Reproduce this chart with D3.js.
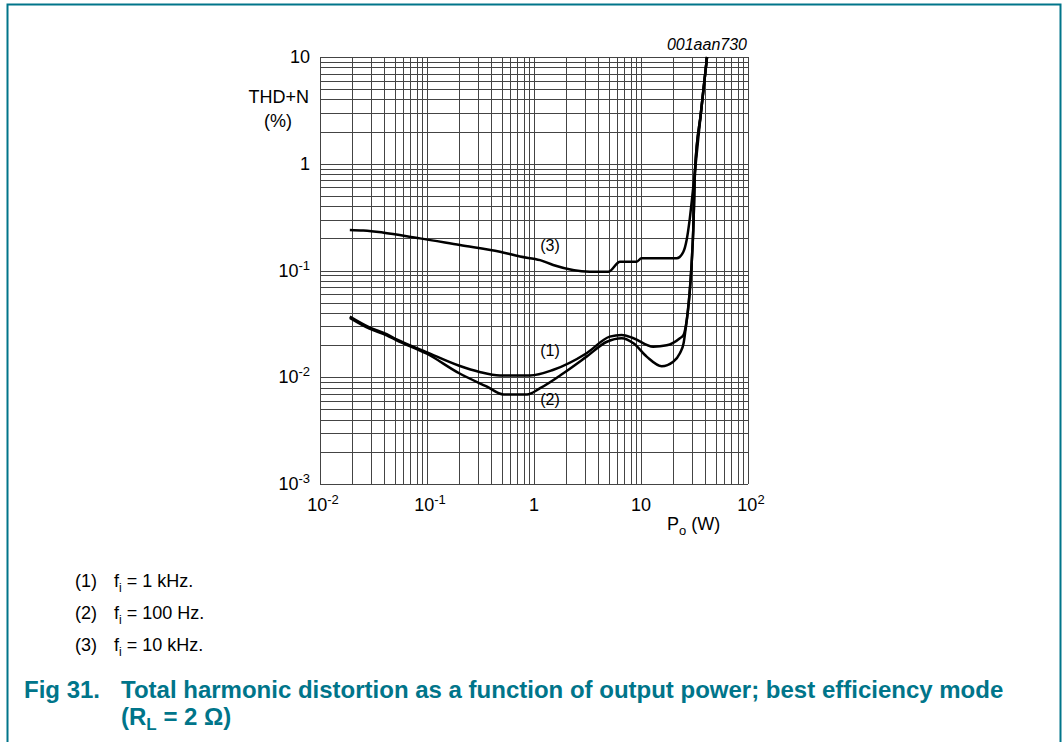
<!DOCTYPE html>
<html>
<head>
<meta charset="utf-8">
<script src="https://cdn.jsdelivr.net/npm/d3@7"></script>
<style>
  body { margin: 0; background: #fff; }
  text { font-family: "Liberation Sans", Arial, sans-serif; }
</style>
</head>
<body>
<div id="chart"></div>
<script>
// page + plot area
var svgWidth = 1063;
var svgHeight = 742;
var plot = {left: 320, top: 57, right: 748, bottom: 484};
var teal = "#00758a";

// curve (1) fi = 1 kHz
var p1 = [0.019, 0.029, 0.042, 0.052, 0.1, 0.2, 0.31, 0.48, 0.92, 1.5, 3.1, 5.1, 6.6, 8.5, 13, 17.4, 23.1, 25, 25.8, 30.8, 32, 36.3, 41.4];
var thd1 = [0.037, 0.0293, 0.0253, 0.0226, 0.0171, 0.0128, 0.0112, 0.0104, 0.0104, 0.0117, 0.0168, 0.024, 0.0249, 0.0232, 0.0193, 0.0199, 0.0232, 0.0249, 0.0277, 0.24, 0.87, 3, 10];

// curve (2) fi = 100 Hz
var p2 = [0.019, 0.029, 0.042, 0.052, 0.1, 0.2, 0.36, 0.52, 0.86, 1.14, 1.88, 3.1, 4.8, 6.6, 8.5, 11.3, 15.6, 20, 23.1, 25, 25.8, 30.8, 32, 36.3, 41.4];
var thd2 = [0.036, 0.0285, 0.0247, 0.0222, 0.0166, 0.0109, 0.0082, 0.0069, 0.0069, 0.0079, 0.0109, 0.0156, 0.0215, 0.0232, 0.0208, 0.0156, 0.0127, 0.014, 0.0168, 0.0208, 0.0258, 0.24, 0.87, 3, 10];

// curve (3) fi = 10 kHz
var p3 = [0.019, 0.0254, 0.086, 0.203, 0.481, 0.74, 1.14, 1.51, 3.33, 4.95, 6.37, 9.1, 10.1, 21.6, 24.9, 26.7, 28.5, 30.5, 32, 36.3, 41.4];
var thd3 = [0.24, 0.237, 0.2, 0.173, 0.15, 0.135, 0.125, 0.1127, 0.0975, 0.0975, 0.121, 0.121, 0.13, 0.13, 0.15, 0.193, 0.3, 0.55, 0.87, 3, 10];

// axis tick labels: [value, mantissa, exponent]
var xTicks = [[0.01, "10", "-2"], [0.1, "10", "-1"], [1, "1", ""], [10, "10", ""], [100, "10", "2"]];
var yTicks = [[10, "10", ""], [1, "1", ""], [0.1, "10", "-1"], [0.01, "10", "-2"], [0.001, "10", "-3"]];

var curveLabels = [["(3)", 1.41, 0.152], ["(1)", 1.41, 0.0158], ["(2)", 1.41, 0.0055]];
var legend = [["(1)", "1 kHz."], ["(2)", "100 Hz."], ["(3)", "10 kHz."]];

var svg = d3.select("#chart")
  .append("svg")
  .attr("width", svgWidth)
  .attr("height", svgHeight);

// teal frame (open at the bottom)
svg.append("path")
  .attr("d", "M7.5,742 V4.5 H1060.5 V742")
  .attr("fill", "none")
  .attr("stroke", teal)
  .attr("stroke-width", 2);

var x = d3.scaleLog().domain([0.01, 100]).range([plot.left, plot.right]);
var y = d3.scaleLog().domain([0.001, 10]).range([plot.bottom, plot.top]);

// log grid lines
var xGrid = [];
[0.01, 0.1, 1, 10].forEach(function(d) {
  for (var k = 1; k < 10; k++) xGrid.push(d * k);
});
xGrid.push(100);
var yGrid = [];
[0.001, 0.01, 0.1, 1].forEach(function(d) {
  for (var k = 1; k < 10; k++) yGrid.push(d * k);
});
yGrid.push(10);

var grid = svg.append("g").attr("stroke", "#444").attr("stroke-width", 1);
grid.selectAll("line.v")
  .data(xGrid)
  .enter()
  .append("line")
  .attr("x1", function(d) { return Math.round(x(d)) + 0.5; })
  .attr("x2", function(d) { return Math.round(x(d)) + 0.5; })
  .attr("y1", plot.top)
  .attr("y2", plot.bottom);
grid.selectAll("line.h")
  .data(yGrid)
  .enter()
  .append("line")
  .attr("y1", function(d) { return Math.round(y(d)) + 0.5; })
  .attr("y2", function(d) { return Math.round(y(d)) + 0.5; })
  .attr("x1", plot.left)
  .attr("x2", plot.right);

// curves
var line = d3.line()
  .x(function(d) { return x(d[0]); })
  .y(function(d) { return y(d[1]); })
  .curve(d3.curveMonotoneX);

[[p1, thd1], [p2, thd2], [p3, thd3]].forEach(function(s) {
  svg.append("path")
    .datum(d3.zip(s[0], s[1]))
    .attr("d", line)
    .attr("fill", "none")
    .attr("stroke", "#000")
    .attr("stroke-width", 2.5)
    .attr("stroke-linejoin", "round");
});

// curve labels
svg.selectAll("text.cl")
  .data(curveLabels)
  .enter()
  .append("text")
  .attr("x", function(d) { return x(d[1]); })
  .attr("y", function(d) { return y(d[2]); })
  .attr("text-anchor", "middle")
  .style("font-size", "16px")
  .text(function(d) { return d[0]; });

// y tick labels
var yl = svg.selectAll("text.yt")
  .data(yTicks)
  .enter()
  .append("text")
  .attr("x", 310)
  .attr("y", function(d) { return y(d[0]) + 6; })
  .attr("text-anchor", "end")
  .style("font-size", "18px");
yl.append("tspan").text(function(d) { return d[1]; });
yl.append("tspan")
  .attr("dy", -7)
  .style("font-size", "13px")
  .text(function(d) { return d[2]; });

// x tick labels
var xl = svg.selectAll("text.xt")
  .data(xTicks)
  .enter()
  .append("text")
  .attr("x", function(d) { return x(d[0]) + (d[2] ? 3 : 0); })
  .attr("y", 511)
  .attr("text-anchor", "middle")
  .style("font-size", "18px");
xl.append("tspan").text(function(d) { return d[1]; });
xl.append("tspan")
  .attr("dy", -7)
  .style("font-size", "13px")
  .text(function(d) { return d[2]; });

// axis titles
svg.append("text")
  .attr("x", 309).attr("y", 103)
  .attr("text-anchor", "end")
  .style("font-size", "18px")
  .text("THD+N");
svg.append("text")
  .attr("x", 278).attr("y", 127)
  .attr("text-anchor", "middle")
  .style("font-size", "18px")
  .text("(%)");

var xt = svg.append("text")
  .attr("x", 667).attr("y", 530)
  .style("font-size", "18px");
xt.append("tspan").text("P");
xt.append("tspan").attr("dy", 5).style("font-size", "13px").text("o");
xt.append("tspan").attr("dy", -5).text(" (W)");

svg.append("text")
  .attr("x", 747).attr("y", 50)
  .attr("text-anchor", "end")
  .style("font-size", "16px")
  .style("font-style", "italic")
  .text("001aan730");

// legend notes
var lg = svg.selectAll("g.lg")
  .data(legend)
  .enter()
  .append("g")
  .attr("transform", function(d, i) { return "translate(0," + (587 + i * 32) + ")"; });
lg.append("text")
  .attr("x", 75)
  .style("font-size", "18px")
  .text(function(d) { return d[0]; });
var lt = lg.append("text")
  .attr("x", 114)
  .style("font-size", "18px");
lt.append("tspan").text("f");
lt.append("tspan").attr("dy", 5).style("font-size", "12px").text("i");
lt.append("tspan").attr("dy", -5).text(function(d) { return " = " + d[1]; });

// figure caption
var cap = svg.append("g")
  .attr("fill", teal)
  .style("font-size", "24px")
  .style("font-weight", "bold");
cap.append("text").attr("x", 24).attr("y", 698).text("Fig 31.");
cap.append("text").attr("x", 121).attr("y", 698)
  .text("Total harmonic distortion as a function of output power; best efficiency mode");
var c2 = cap.append("text").attr("x", 121).attr("y", 725);
c2.append("tspan").text("(R");
c2.append("tspan").attr("dy", 5).style("font-size", "17px").text("L");
c2.append("tspan").attr("dy", -5).text(" = 2 \u03A9)");
</script>
</body>
</html>
